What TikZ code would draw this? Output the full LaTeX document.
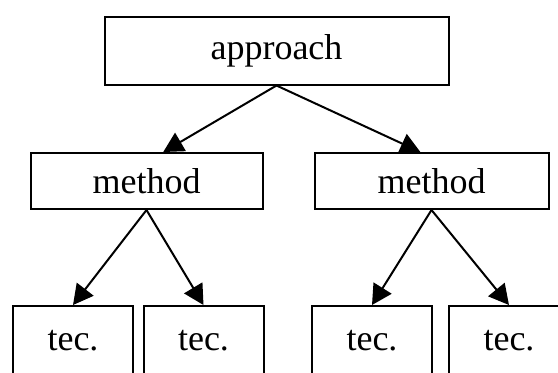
\documentclass[tikz,border=0pt]{standalone}
\usepackage{fontspec}
\setmainfont{Liberation Serif}
\usepackage{tikz}
\usetikzlibrary{arrows.meta}
\tikzstyle{box} = [rectangle, draw, line width=1pt, inner sep=0pt,
  font=\fontsize{18}{21}\selectfont]

\begin{document}
\begin{tikzpicture}[x=0.5pt, y=-0.5pt, line width=1pt,
    >={Triangle[length=10pt,width=10.5pt]}]
  \useasboundingbox (0,0) rectangle (558,372);
  \clip (0,0) rectangle (558,372);

  \node[box, minimum width=172pt, minimum height=34pt] (app) at (276.5, 50.5) {approach};
  \node[box, minimum width=116pt, minimum height=28pt] (m1) at (146.5, 181) {method};
  \node[box, minimum width=117pt, minimum height=28pt] (m2) at (431.5, 181) {method};
  \node[box, minimum width=60pt, minimum height=35pt] (t1) at (73, 341) {tec.};
  \node[box, minimum width=60pt, minimum height=35pt] (t2) at (203.5, 341) {tec.};
  \node[box, minimum width=60pt, minimum height=35pt] (t3) at (372, 341) {tec.};
  \node[box, minimum width=60pt, minimum height=35pt] (t4) at (509, 341) {tec.};

  \path[draw,->] (app.south) -- (m1.60);
  \path[draw,->] (app.south) -- (m2.111);
  \path[draw,->] (m1.south) -- (t1.north);
  \path[draw,->] (m1.south) -- (t2.north);
  \path[draw,->] (m2.south) -- (t3.north);
  \path[draw,->] (m2.south) -- (t4.north);
\end{tikzpicture}
\end{document}
